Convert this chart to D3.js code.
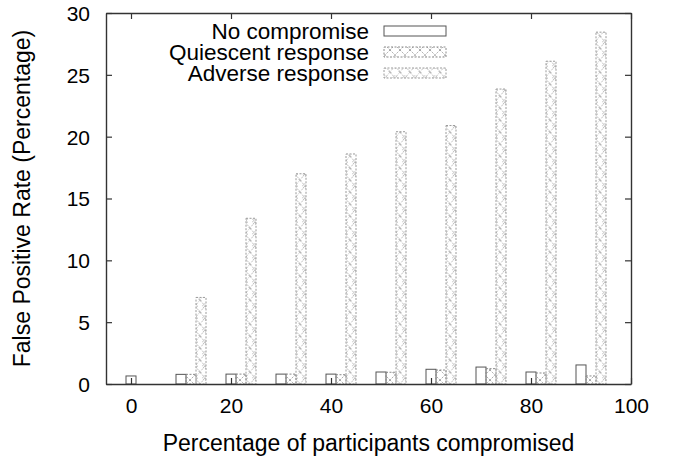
<!DOCTYPE html>
<html>
<head>
<meta charset="utf-8">
<script src="https://cdn.jsdelivr.net/npm/d3@7"></script>
<style>
  html, body { margin: 0; padding: 0; background: #fff; }
  svg { display: block; font-family: "Liberation Sans", Arial, Helvetica, sans-serif; }
</style>
</head>
<body>
<svg id="chart" width="678" height="459"></svg>
<script>
// Percentage of participants compromised (group positions on the x axis)
const categories = [0, 10, 20, 30, 40, 50, 60, 70, 80, 90];
// False positive rate (%) per scenario
const noCompromise = [0.65, 0.78, 0.8, 0.8, 0.8, 0.97, 1.19, 1.37, 0.97, 1.54];
const quiescentResponse = [0, 0.78, 0.8, 0.8, 0.75, 0.95, 1.13, 1.24, 0.89, 0.65];
const adverseResponse = [0, 7.0, 13.4, 17.0, 18.6, 20.4, 20.9, 23.85, 26.1, 28.45];

const seriesNames = ["No compromise", "Quiescent response", "Adverse response"];
const xTicks = [0, 20, 40, 60, 80, 100];
const yTicks = [0, 5, 10, 15, 20, 25, 30];

const svg = d3.select("#chart");
const margin = { left: 106, right: 47, top: 13, bottom: 75 };
const W = 678, H = 459;

const x = d3.scaleLinear().domain([-5, 100]).range([margin.left, W - margin.right]);
const y = d3.scaleLinear().domain([0, 30]).range([H - margin.bottom, margin.top]);

// fill patterns for the hatched series
const defs = svg.append("defs");
const pq = defs.append("pattern").attr("id", "patQ")
  .attr("patternUnits", "userSpaceOnUse").attr("width", 10).attr("height", 10);
pq.append("path").attr("d", "M0,0 L10,10 M10,0 L0,10")
  .attr("stroke", "#909090").attr("stroke-width", 0.8)
  .attr("stroke-dasharray", "1.5,1").attr("fill", "none");

const pa = defs.append("pattern").attr("id", "patA")
  .attr("patternUnits", "userSpaceOnUse").attr("width", 10).attr("height", 12);
pa.append("path").attr("d", "M0,0 L5,6 L0,12 M10,0 L5,6 L10,12")
  .attr("stroke", "#9a9a9a").attr("stroke-width", 0.8)
  .attr("stroke-dasharray", "1,1").attr("fill", "none");
pa.append("circle").attr("cx", 5).attr("cy", 6).attr("r", 2.2)
  .attr("stroke", "#9a9a9a").attr("stroke-width", 0.8)
  .attr("stroke-dasharray", "1,1").attr("fill", "none");
pa.append("circle").attr("cx", 0).attr("cy", 0).attr("r", 1.2)
  .attr("stroke", "#a5a5a5").attr("stroke-width", 0.7).attr("fill", "none");
pa.append("circle").attr("cx", 10).attr("cy", 12).attr("r", 1.2)
  .attr("stroke", "#a5a5a5").attr("stroke-width", 0.7).attr("fill", "none");

const styles = [
  { fill: "#fff", stroke: "#555", dash: null },
  { fill: "url(#patQ)", stroke: "#8a8a8a", dash: "2,1.5" },
  { fill: "url(#patA)", stroke: "#9a9a9a", dash: "2,1.5" }
];
const seriesValues = [noCompromise, quiescentResponse, adverseResponse];
const barW = 2;      // bar width in x units
const offsets = [0, 2, 4];

seriesValues.forEach((vals, si) => {
  const rows = categories.map((c, i) => ({ c, v: vals[i] })).filter(d => d.v > 0);
  svg.append("g").selectAll("rect").data(rows).join("rect")
    .attr("x", d => x(d.c + offsets[si] - barW / 2))
    .attr("width", d => x(d.c + offsets[si] + barW / 2) - x(d.c + offsets[si] - barW / 2))
    .attr("y", d => y(d.v))
    .attr("height", d => y(0) - y(d.v))
    .attr("fill", styles[si].fill)
    .attr("stroke", styles[si].stroke)
    .attr("stroke-width", 1)
    .attr("stroke-dasharray", styles[si].dash);
});

// axes with inward ticks, mirrored on top/right
const axisColor = "#333";
const tl = 6;
const gB = svg.append("g").attr("transform", `translate(0,${y(0)})`)
  .call(d3.axisBottom(x).tickValues(xTicks).tickSizeInner(-tl).tickSizeOuter(0).tickPadding(14));
const gT = svg.append("g").attr("transform", `translate(0,${y(30)})`)
  .call(d3.axisTop(x).tickValues(xTicks).tickSizeInner(-tl).tickSizeOuter(0).tickFormat(""));
const gL = svg.append("g").attr("transform", `translate(${x(-5)},0)`)
  .call(d3.axisLeft(y).tickValues(yTicks).tickSizeInner(-tl).tickSizeOuter(0).tickPadding(16));
const gR = svg.append("g").attr("transform", `translate(${x(100)},0)`)
  .call(d3.axisRight(y).tickValues(yTicks).tickSizeInner(-tl).tickSizeOuter(0).tickFormat(""));

[gB, gT, gL, gR].forEach(g => {
  g.selectAll("path.domain").attr("stroke", axisColor).attr("stroke-width", 1.4);
  g.selectAll(".tick line").attr("stroke", axisColor).attr("stroke-width", 1.2);
  g.selectAll(".tick text").attr("fill", "#000").style("font-size", "21px")
    .style("font-family", "'Liberation Sans', Arial, sans-serif");
});
gB.selectAll(".tick text").attr("dy", "0.71em");
gL.selectAll(".tick text").attr("dy", "0.35em");

// axis titles
svg.append("text")
  .attr("x", (x(-5) + x(100)) / 2).attr("y", 451)
  .attr("text-anchor", "middle").style("font-size", "23px").attr("fill", "#000")
  .text("Percentage of participants compromised");
svg.append("text")
  .attr("transform", `translate(30,${(y(0) + y(30)) / 2}) rotate(-90)`)
  .attr("text-anchor", "middle").style("font-size", "23px").attr("fill", "#000")
  .text("False Positive Rate (Percentage)");

// legend
const lg = svg.append("g");
seriesNames.forEach((name, i) => {
  const cy = 31 + i * 21;
  lg.append("text").attr("x", 369).attr("y", cy).attr("dy", "0.35em")
    .attr("text-anchor", "end").style("font-size", "22.5px").attr("fill", "#000")
    .text(name);
  lg.append("rect").attr("x", 384).attr("y", cy - 5).attr("width", 62).attr("height", 10)
    .attr("fill", styles[i].fill).attr("stroke", styles[i].stroke)
    .attr("stroke-width", 1).attr("stroke-dasharray", styles[i].dash);
});
</script>
</body>
</html>
